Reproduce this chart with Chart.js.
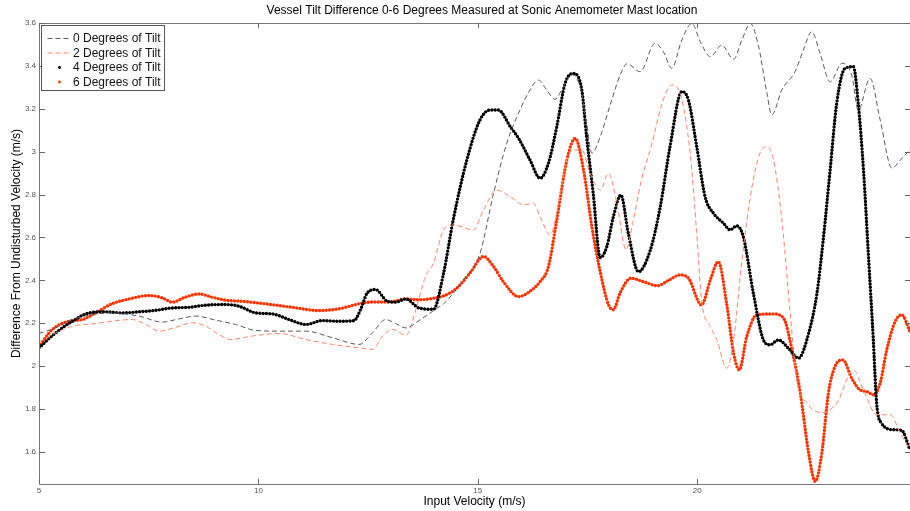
<!DOCTYPE html>
<html>
<head>
<meta charset="utf-8">
<title>Vessel Tilt Difference</title>
<script src="https://cdn.jsdelivr.net/npm/chart.js@4.4.1/dist/chart.umd.min.js"></script>
<style>
  html, body { margin: 0; padding: 0; background: #fff; }
  #wrap { width: 910px; height: 511px; position: relative; }
</style>
</head>
<body>
<div id="wrap"><canvas id="chart" width="910" height="511"></canvas></div>
<script>
// Input velocity (m/s) sample positions and velocity difference (m/s) per tilt angle
const tilt0X = [5.0,5.38,5.76,6.22,6.67,7.28,7.81,8.19,8.57,9.03,9.48,9.94,10.47,11.08,11.69,12.3,12.6,12.9,13.13,13.36,13.68,14.08,14.22,14.67,15.05,15.36,15.66,15.96,16.19,16.38,16.57,16.76,16.95,17.14,17.33,17.48,17.6,17.79,18.02,18.25,18.4,18.7,19.04,19.23,19.42,19.65,19.88,20.07,20.3,20.56,20.83,21.02,21.21,21.4,21.59,21.7,21.93,22.23,22.42,22.61,22.8,23.03,23.3,23.52,23.67,23.94,24.17,24.44,24.63,24.85];
const tilt0Y = [2.152,2.178,2.217,2.24,2.248,2.233,2.205,2.22,2.233,2.214,2.194,2.166,2.163,2.163,2.132,2.101,2.155,2.217,2.198,2.178,2.215,2.271,2.29,2.402,2.526,2.806,3.039,3.194,3.288,3.334,3.288,3.244,3.303,3.358,3.303,3.132,2.993,3.07,3.22,3.36,3.41,3.373,3.505,3.466,3.389,3.521,3.598,3.513,3.443,3.497,3.431,3.521,3.598,3.49,3.272,3.171,3.288,3.373,3.474,3.559,3.459,3.326,3.412,3.358,3.194,3.342,3.148,2.923,2.961,3.008];

const tilt2X = [5.0,5.38,5.76,6.29,6.75,7.13,7.43,7.74,8.12,8.5,8.8,9.1,9.37,9.86,10.47,11.08,11.69,12.3,12.6,12.83,13.06,13.36,13.59,13.81,13.99,14.22,14.44,14.9,15.13,15.43,15.74,16.04,16.27,16.42,16.65,16.84,17.03,17.18,17.37,17.56,17.79,17.98,18.17,18.38,18.53,18.72,18.96,19.2,19.42,19.61,19.84,19.99,20.1,20.3,20.45,20.67,20.83,21.02,21.25,21.43,21.59,21.74,21.93,22.12,22.27,22.5,22.84,23.18,23.56,23.79,24.09,24.4,24.63,24.85];
const tilt2Y = [2.112,2.155,2.186,2.198,2.212,2.217,2.194,2.163,2.181,2.202,2.186,2.147,2.124,2.14,2.152,2.124,2.101,2.085,2.078,2.14,2.171,2.143,2.264,2.419,2.48,2.635,2.658,2.635,2.728,2.821,2.79,2.752,2.759,2.697,2.612,2.759,2.961,3.008,3.008,2.899,2.821,2.899,2.76,2.542,2.666,2.86,3.03,3.225,3.311,3.272,2.993,2.62,2.309,2.184,2.122,1.99,2.122,2.495,2.837,2.993,3.023,2.961,2.682,2.246,1.936,1.827,1.783,1.827,1.982,1.889,1.773,1.773,1.687,1.609];

const tilt4X = [5.0,5.38,5.76,6.14,6.52,6.9,7.28,7.66,8.04,8.42,8.8,9.26,9.56,9.94,10.32,10.7,11.08,11.46,11.84,12.18,12.33,12.48,12.67,12.94,13.13,13.36,13.66,13.99,14.22,14.44,14.75,15.05,15.28,15.47,15.74,15.93,16.19,16.42,16.61,16.8,16.99,17.18,17.37,17.48,17.63,17.79,17.94,18.09,18.26,18.43,18.66,18.93,19.16,19.38,19.65,19.8,19.99,20.18,20.37,20.6,20.75,20.9,21.05,21.28,21.51,21.66,21.85,22.08,22.31,22.54,22.73,22.88,23.03,23.18,23.37,23.56,23.67,23.79,23.9,24.01,24.09,24.2,24.47,24.66,24.85];
const tilt4Y = [2.085,2.155,2.209,2.248,2.253,2.248,2.253,2.26,2.271,2.274,2.284,2.287,2.279,2.248,2.243,2.217,2.194,2.212,2.209,2.212,2.264,2.341,2.357,2.302,2.298,2.313,2.271,2.265,2.433,2.682,2.961,3.148,3.194,3.194,3.117,3.062,2.961,2.876,2.946,3.117,3.319,3.365,3.288,3.07,2.806,2.506,2.557,2.697,2.798,2.62,2.44,2.54,2.745,3.023,3.28,3.241,3.023,2.79,2.713,2.666,2.635,2.654,2.604,2.34,2.122,2.099,2.122,2.083,2.037,2.153,2.34,2.604,2.915,3.226,3.389,3.396,3.226,2.915,2.526,2.138,1.827,1.734,1.703,1.7,1.609];

const tilt6X = [5.0,5.3,5.68,5.99,6.29,6.67,7.05,7.51,7.81,8.04,8.34,8.65,8.95,9.26,9.64,10.17,10.78,11.38,11.84,12.3,12.6,12.98,13.36,13.68,14.08,14.22,14.52,14.82,15.13,15.36,15.58,15.93,16.15,16.42,16.61,16.8,17.03,17.22,17.41,17.6,17.79,17.98,18.09,18.24,18.49,18.77,19.1,19.35,19.61,19.8,20.1,20.3,20.48,20.67,20.83,20.96,21.13,21.36,21.74,21.97,22.16,22.35,22.54,22.69,22.84,22.99,23.14,23.32,23.52,23.71,23.87,24.02,24.17,24.32,24.51,24.66,24.85];
const tilt6Y = [2.09,2.17,2.209,2.217,2.248,2.291,2.313,2.329,2.318,2.298,2.322,2.336,2.321,2.307,2.302,2.29,2.274,2.259,2.267,2.291,2.299,2.299,2.313,2.309,2.32,2.327,2.363,2.433,2.511,2.464,2.394,2.324,2.343,2.394,2.464,2.682,2.961,3.062,2.915,2.65,2.44,2.285,2.263,2.34,2.41,2.394,2.375,2.4,2.425,2.41,2.285,2.402,2.487,2.293,2.06,1.982,2.138,2.239,2.243,2.223,2.076,1.874,1.594,1.462,1.594,1.874,1.998,2.029,1.944,1.889,1.881,1.866,1.92,2.076,2.207,2.239,2.161];

const seriesLabels = ['0 Degrees of Tilt', '2 Degrees of Tilt', '4 Degrees of Tilt', '6 Degrees of Tilt'];
const xTicks = [5, 10, 15, 20];
const yTicks = [1.6, 1.8, 2.0, 2.2, 2.4, 2.6, 2.8, 3.0, 3.2, 3.4, 3.6];
const chartTitle = 'Vessel Tilt Difference 0-6 Degrees Measured at Sonic Anemometer Mast location';
const yTitle = 'Difference From Undisturbed Velocity (m/s)';

const FONT = '"Liberation Sans", Arial, Helvetica, sans-serif';
const AXIS = '#777';

function pairs(xs, ys) { return xs.map((x, i) => ({ x: x, y: ys[i] })); }

// MATLAB-style frame: box lines, inward ticks on all sides, titles and a legend inside the axes
const framePlugin = {
  id: 'frame',
  afterDatasetsDraw(chart) {
    const { ctx, chartArea: a, scales } = chart;
    ctx.save();
    ctx.strokeStyle = AXIS;
    ctx.lineWidth = 1;
    ctx.beginPath();
    ctx.moveTo(a.left + 0.5, a.top + 0.5);
    ctx.lineTo(a.left + 0.5, a.bottom + 0.5);
    ctx.lineTo(a.right, a.bottom + 0.5);
    ctx.moveTo(a.left + 0.5, a.top + 0.5);
    ctx.lineTo(a.right, a.top + 0.5);
    ctx.stroke();
    ctx.strokeStyle = '#666';
    ctx.beginPath();
    xTicks.forEach(v => {
      const px = Math.round(scales.x.getPixelForValue(v)) + 0.5;
      ctx.moveTo(px, a.bottom); ctx.lineTo(px, a.bottom - 5);
      ctx.moveTo(px, a.top); ctx.lineTo(px, a.top + 5);
    });
    yTicks.forEach(v => {
      const py = Math.round(scales.y.getPixelForValue(v)) + 0.5;
      ctx.moveTo(a.left, py); ctx.lineTo(a.left + 6, py);
      ctx.moveTo(a.right, py); ctx.lineTo(a.right - 5, py);
    });
    ctx.stroke();

    // titles
    ctx.fillStyle = '#000';
    ctx.font = '12px ' + FONT;
    ctx.textAlign = 'center';
    ctx.textBaseline = 'middle';
    ctx.fillText(chartTitle, a.left + 443, 10.5);
    ctx.save();
    ctx.translate(17, (a.top + a.bottom) / 2 - 10);
    ctx.rotate(-Math.PI / 2);
    ctx.fillText(yTitle, 0, 0);
    ctx.restore();

    // legend
    const bx = a.left + 2.5, by = a.top + 2.5, bw = 123, bh = 65;
    ctx.fillStyle = '#fff';
    ctx.fillRect(bx, by, bw, bh);
    ctx.strokeStyle = '#555';
    ctx.lineWidth = 1;
    ctx.strokeRect(bx, by, bw, bh);
    ctx.font = '12px ' + FONT;
    ctx.textBaseline = 'middle';
    ctx.textAlign = 'left';
    chart.data.datasets.forEach((ds, i) => {
      const cy = by + 12.5 + i * 14.5;
      if (ds.legendLine) {
        ctx.strokeStyle = ds.borderColor;
        ctx.lineWidth = 1;
        ctx.setLineDash([5, 3]);
        ctx.beginPath();
        ctx.moveTo(bx + 6, cy + 0.5); ctx.lineTo(bx + 30, cy + 0.5);
        ctx.stroke();
        ctx.setLineDash([]);
      } else {
        ctx.fillStyle = ds.borderColor;
        ctx.beginPath();
        ctx.arc(bx + 18, cy + 0.5, 1.4, 0, Math.PI * 2);
        ctx.fill();
      }
      ctx.fillStyle = '#111';
      ctx.fillText(ds.label, bx + 31.5, cy + 1);
    });
    ctx.restore();
  }
};

const dashed = (color) => ({
  borderColor: color, borderWidth: 1, borderDash: [5, 3],
  pointRadius: 0, cubicInterpolationMode: 'monotone', legendLine: true
});
const dotted = (color) => ({
  borderColor: color, borderWidth: 3.4, borderDash: [0, 3.3], borderCapStyle: 'round',
  pointRadius: 0, cubicInterpolationMode: 'monotone', legendLine: false
});

new Chart(document.getElementById('chart'), {
  type: 'line',
  data: {
    datasets: [
      Object.assign({ label: seriesLabels[0], data: pairs(tilt0X, tilt0Y) }, dashed('#5a5a5a')),
      Object.assign({ label: seriesLabels[1], data: pairs(tilt2X, tilt2Y) }, dashed('#ff8566')),
      Object.assign({ label: seriesLabels[2], data: pairs(tilt4X, tilt4Y) }, dotted('#000000')),
      Object.assign({ label: seriesLabels[3], data: pairs(tilt6X, tilt6Y) }, dotted('#ff3300'))
    ]
  },
  options: {
    responsive: false,
    animation: false,
    events: [],
    layout: { padding: { left: 0, right: 0, top: 23, bottom: 0 } },
    plugins: {
      legend: { display: false },
      tooltip: { enabled: false },
      title: { display: false }
    },
    scales: {
      x: {
        type: 'linear',
        min: 5,
        max: 24.85,
        border: { display: false },
        grid: { display: false, drawTicks: false },
        afterBuildTicks: s => { s.ticks = xTicks.map(v => ({ value: v })); },
        afterFit: s => { s.height = 27; },
        ticks: {
          color: '#555',
          padding: 2,
          maxRotation: 0,
          font: { family: FONT, size: 8 },
          callback: v => String(v)
        },
        title: {
          display: true,
          text: 'Input Velocity (m/s)',
          color: '#000',
          font: { family: FONT, size: 12 },
          padding: { top: 0, bottom: 2 }
        }
      },
      y: {
        type: 'linear',
        min: 1.45,
        max: 3.6,
        border: { display: false },
        grid: { display: false, drawTicks: false },
        afterBuildTicks: s => { s.ticks = yTicks.map(v => ({ value: v })); },
        afterFit: s => { s.width = 39; },
        ticks: {
          color: '#555',
          padding: 3,
          font: { family: FONT, size: 8 },
          callback: v => String(Math.round(v * 10) / 10)
        }
      }
    }
  },
  plugins: [framePlugin]
});
</script>
</body>
</html>
